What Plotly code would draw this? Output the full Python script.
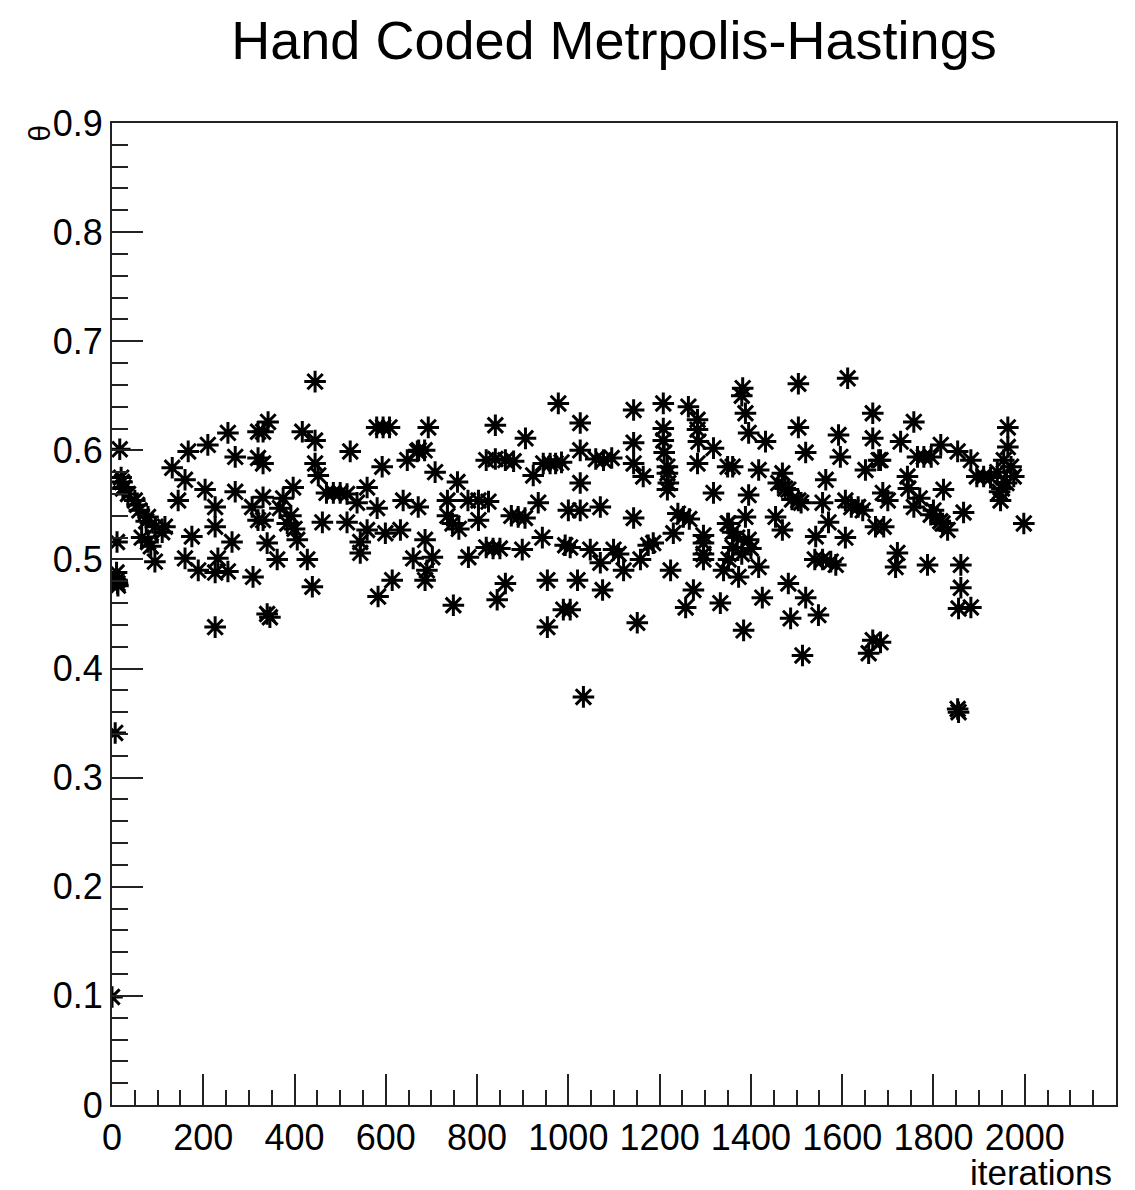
import plotly.graph_objects as go

# MH chain samples (iteration, theta)
iterations = [
    0, 7, 10, 11, 12, 13, 11, 17, 20, 22, 24, 25, 35, 50, 55, 60, 65, 75, 79, 79, 85, 94, 95, 110, 116,
    132, 145, 160, 160, 167, 175, 189, 204, 210, 226, 226, 226, 226, 232, 254, 254, 263, 270, 270, 307,
    309, 320, 320, 320,
    331, 331, 331, 331, 340, 340, 342, 346, 362, 368, 375, 384, 392, 397, 400, 406, 417, 428, 439, 445,
    445, 445, 452, 461, 470, 485, 500, 515, 515, 522, 537, 544, 544, 559, 559, 580, 581, 583, 592, 594,
    599, 608, 614, 632, 638, 647, 660, 669,
    671, 672, 685, 686, 686, 690, 693, 702, 708, 735, 735, 746, 748, 757, 760, 780, 781, 803, 803, 820,
    820, 825, 835, 840, 840, 844, 850, 862, 862, 875, 880, 890, 899, 905, 906, 923, 934, 943, 945, 954,
    954, 960, 972, 978, 985, 989, 993, 1000,
    1004, 1004, 1020, 1026, 1026, 1026, 1026, 1033, 1048, 1060, 1070, 1070, 1075, 1077, 1095, 1099, 1110,
    1121, 1143, 1143, 1143, 1143, 1151, 1158, 1164, 1175, 1186, 1208, 1208, 1208, 1210, 1217, 1217, 1219,
    1217, 1224, 1230, 1240, 1252, 1257, 1263, 1265, 1274, 1283, 1283, 1283, 1285, 1296, 1296, 1296, 1296,
    1318, 1318, 1333, 1340, 1349, 1349,
    1351, 1351, 1360, 1360, 1360, 1370, 1373, 1380, 1380, 1382, 1384, 1388, 1388, 1395, 1395, 1395, 1400,
    1417, 1417, 1425, 1432, 1454, 1460, 1469, 1469, 1475, 1482, 1482, 1487, 1490, 1504, 1504, 1504, 1510,
    1513, 1520, 1520, 1540, 1542, 1548, 1557, 1557, 1564, 1570, 1575, 1586, 1592, 1596, 1607, 1607, 1612,
    1620, 1635, 1645, 1651, 1658, 1667, 1667, 1667, 1673, 1680, 1684, 1684, 1689, 1691, 1700, 1717, 1721,
    1728, 1743, 1745, 1757, 1757, 1765, 1770, 1779, 1787, 1794, 1795, 1800, 1815, 1816, 1820, 1822, 1831,
    1853, 1853, 1855, 1855, 1860, 1860, 1866, 1882, 1882, 1895, 1910, 1925, 1940, 1945, 1947, 1950, 1954,
    1960, 1963, 1963, 1970, 1976, 1998,
]
theta = [
    0.099, 0.341, 0.488, 0.481, 0.478, 0.476, 0.516, 0.601, 0.575, 0.571, 0.565, 0.566, 0.560, 0.554, 0.550,
    0.545, 0.520, 0.535, 0.539, 0.516, 0.512, 0.498, 0.530, 0.525, 0.530,
    0.584, 0.554, 0.573, 0.501, 0.599, 0.521, 0.490, 0.564, 0.605, 0.548, 0.530, 0.488, 0.438, 0.501,
    0.616, 0.489, 0.516, 0.594, 0.562, 0.548,
    0.484, 0.617, 0.593, 0.536,
    0.617, 0.588, 0.557, 0.536, 0.515, 0.450, 0.626, 0.447, 0.500, 0.547, 0.556, 0.533, 0.540, 0.566,
    0.528, 0.518, 0.617, 0.500, 0.475, 0.663, 0.609, 0.588, 0.577, 0.534, 0.561, 0.561, 0.561, 0.560,
    0.534, 0.599, 0.552, 0.516, 0.506, 0.566, 0.527, 0.621, 0.547, 0.466, 0.585, 0.621, 0.524, 0.621,
    0.481, 0.527, 0.554, 0.591, 0.501, 0.599,
    0.548, 0.600, 0.600, 0.518, 0.481, 0.490, 0.621, 0.502, 0.580, 0.554, 0.540, 0.533, 0.458, 0.571,
    0.528, 0.554, 0.502, 0.554, 0.536, 0.591, 0.511, 0.553, 0.510, 0.592, 0.623, 0.463, 0.510, 0.591,
    0.478, 0.540, 0.590, 0.539, 0.509, 0.538, 0.611, 0.577, 0.552, 0.520, 0.588, 0.481, 0.438, 0.588,
    0.588, 0.643, 0.589, 0.454, 0.513, 0.545,
    0.511, 0.454, 0.481, 0.625, 0.600, 0.570, 0.545, 0.374, 0.509, 0.592, 0.548, 0.497, 0.472, 0.591,
    0.593, 0.509, 0.505, 0.490, 0.637, 0.607, 0.588, 0.538, 0.442, 0.500, 0.576, 0.513, 0.515, 0.643,
    0.620, 0.609, 0.598, 0.585, 0.579, 0.570, 0.564, 0.490, 0.524, 0.542, 0.539, 0.456, 0.640, 0.537,
    0.472, 0.628, 0.619, 0.588, 0.608, 0.522, 0.515, 0.505, 0.500, 0.602, 0.561, 0.460, 0.490, 0.585,
    0.533,
    0.533, 0.500, 0.585, 0.511, 0.525, 0.520, 0.484, 0.650, 0.505, 0.657, 0.435, 0.634, 0.539, 0.616,
    0.559, 0.518, 0.510, 0.582, 0.493, 0.465, 0.608, 0.539, 0.570, 0.579, 0.527, 0.565, 0.564, 0.478,
    0.446, 0.555, 0.661, 0.621, 0.554, 0.552, 0.412, 0.598, 0.465, 0.500, 0.521, 0.449, 0.552, 0.500,
    0.573, 0.534, 0.498, 0.495, 0.614, 0.594, 0.554, 0.520, 0.666, 0.548, 0.548, 0.545, 0.582, 0.414,
    0.634, 0.611, 0.426, 0.530, 0.591, 0.591, 0.424, 0.561, 0.530, 0.554, 0.493, 0.506, 0.608, 0.576,
    0.565, 0.626, 0.548, 0.594, 0.556, 0.594, 0.495, 0.541, 0.594, 0.545, 0.535, 0.605, 0.533, 0.564,
    0.527, 0.599, 0.363, 0.455, 0.360, 0.495, 0.474, 0.543, 0.591, 0.456, 0.576, 0.576, 0.575, 0.580,
    0.562, 0.554, 0.565, 0.591, 0.570, 0.621, 0.603, 0.585, 0.576, 0.533,
]

title_text = "Hand Coded Metrpolis-Hastings"
x_title = "iterations"
y_title = "θ"

FONT = "Liberation Sans, Arial, Helvetica, sans-serif"

fig = go.Figure()
fig.add_trace(go.Scatter(
    x=iterations, y=theta, mode="markers",
    marker=dict(symbol="asterisk-open", size=18, color="black",
                line=dict(color="black", width=3)),
    showlegend=False,
))

axis_common = dict(
    showline=True, mirror=True, linecolor="#222222", linewidth=2,
    showgrid=False, zeroline=False,
    ticks="inside", tickcolor="#222222", tickwidth=2, ticklen=31,
    tickfont=dict(family=FONT, size=36, color="black"),
)

fig.update_xaxes(
    range=[0, 2200], dtick=200, tick0=0, tickangle=0,
    minor=dict(dtick=50, ticks="inside", ticklen=15, tickwidth=2, tickcolor="#222222"),
    **axis_common,
)
fig.update_yaxes(
    range=[0, 0.9], dtick=0.1, tick0=0, tickformat="~g",
    minor=dict(dtick=0.02, ticks="inside", ticklen=16, tickwidth=2, tickcolor="#222222"),
    **axis_common,
)

fig.update_layout(
    width=1135, height=1190,
    margin=dict(l=104, r=27, t=115, b=93),
    paper_bgcolor="white", plot_bgcolor="white",
    font=dict(family=FONT, color="black"),
    title=dict(text=title_text, x=0.5, xref="paper", y=1 - 32 / 1190, yref="container",
               xanchor="center", yanchor="middle",
               font=dict(family=FONT, size=54, color="black")),
    annotations=[
        dict(text=x_title, xref="paper", yref="paper", x=0.998, y=-0.069,
             xanchor="right", yanchor="middle", showarrow=False,
             font=dict(family=FONT, size=35, color="black")),
        dict(text=y_title, xref="paper", yref="paper", x=-0.072, y=0.99,
             xanchor="center", yanchor="middle", showarrow=False, textangle=-90,
             font=dict(family=FONT, size=30, color="black")),
    ],
)

fig.write_html("out.html")
